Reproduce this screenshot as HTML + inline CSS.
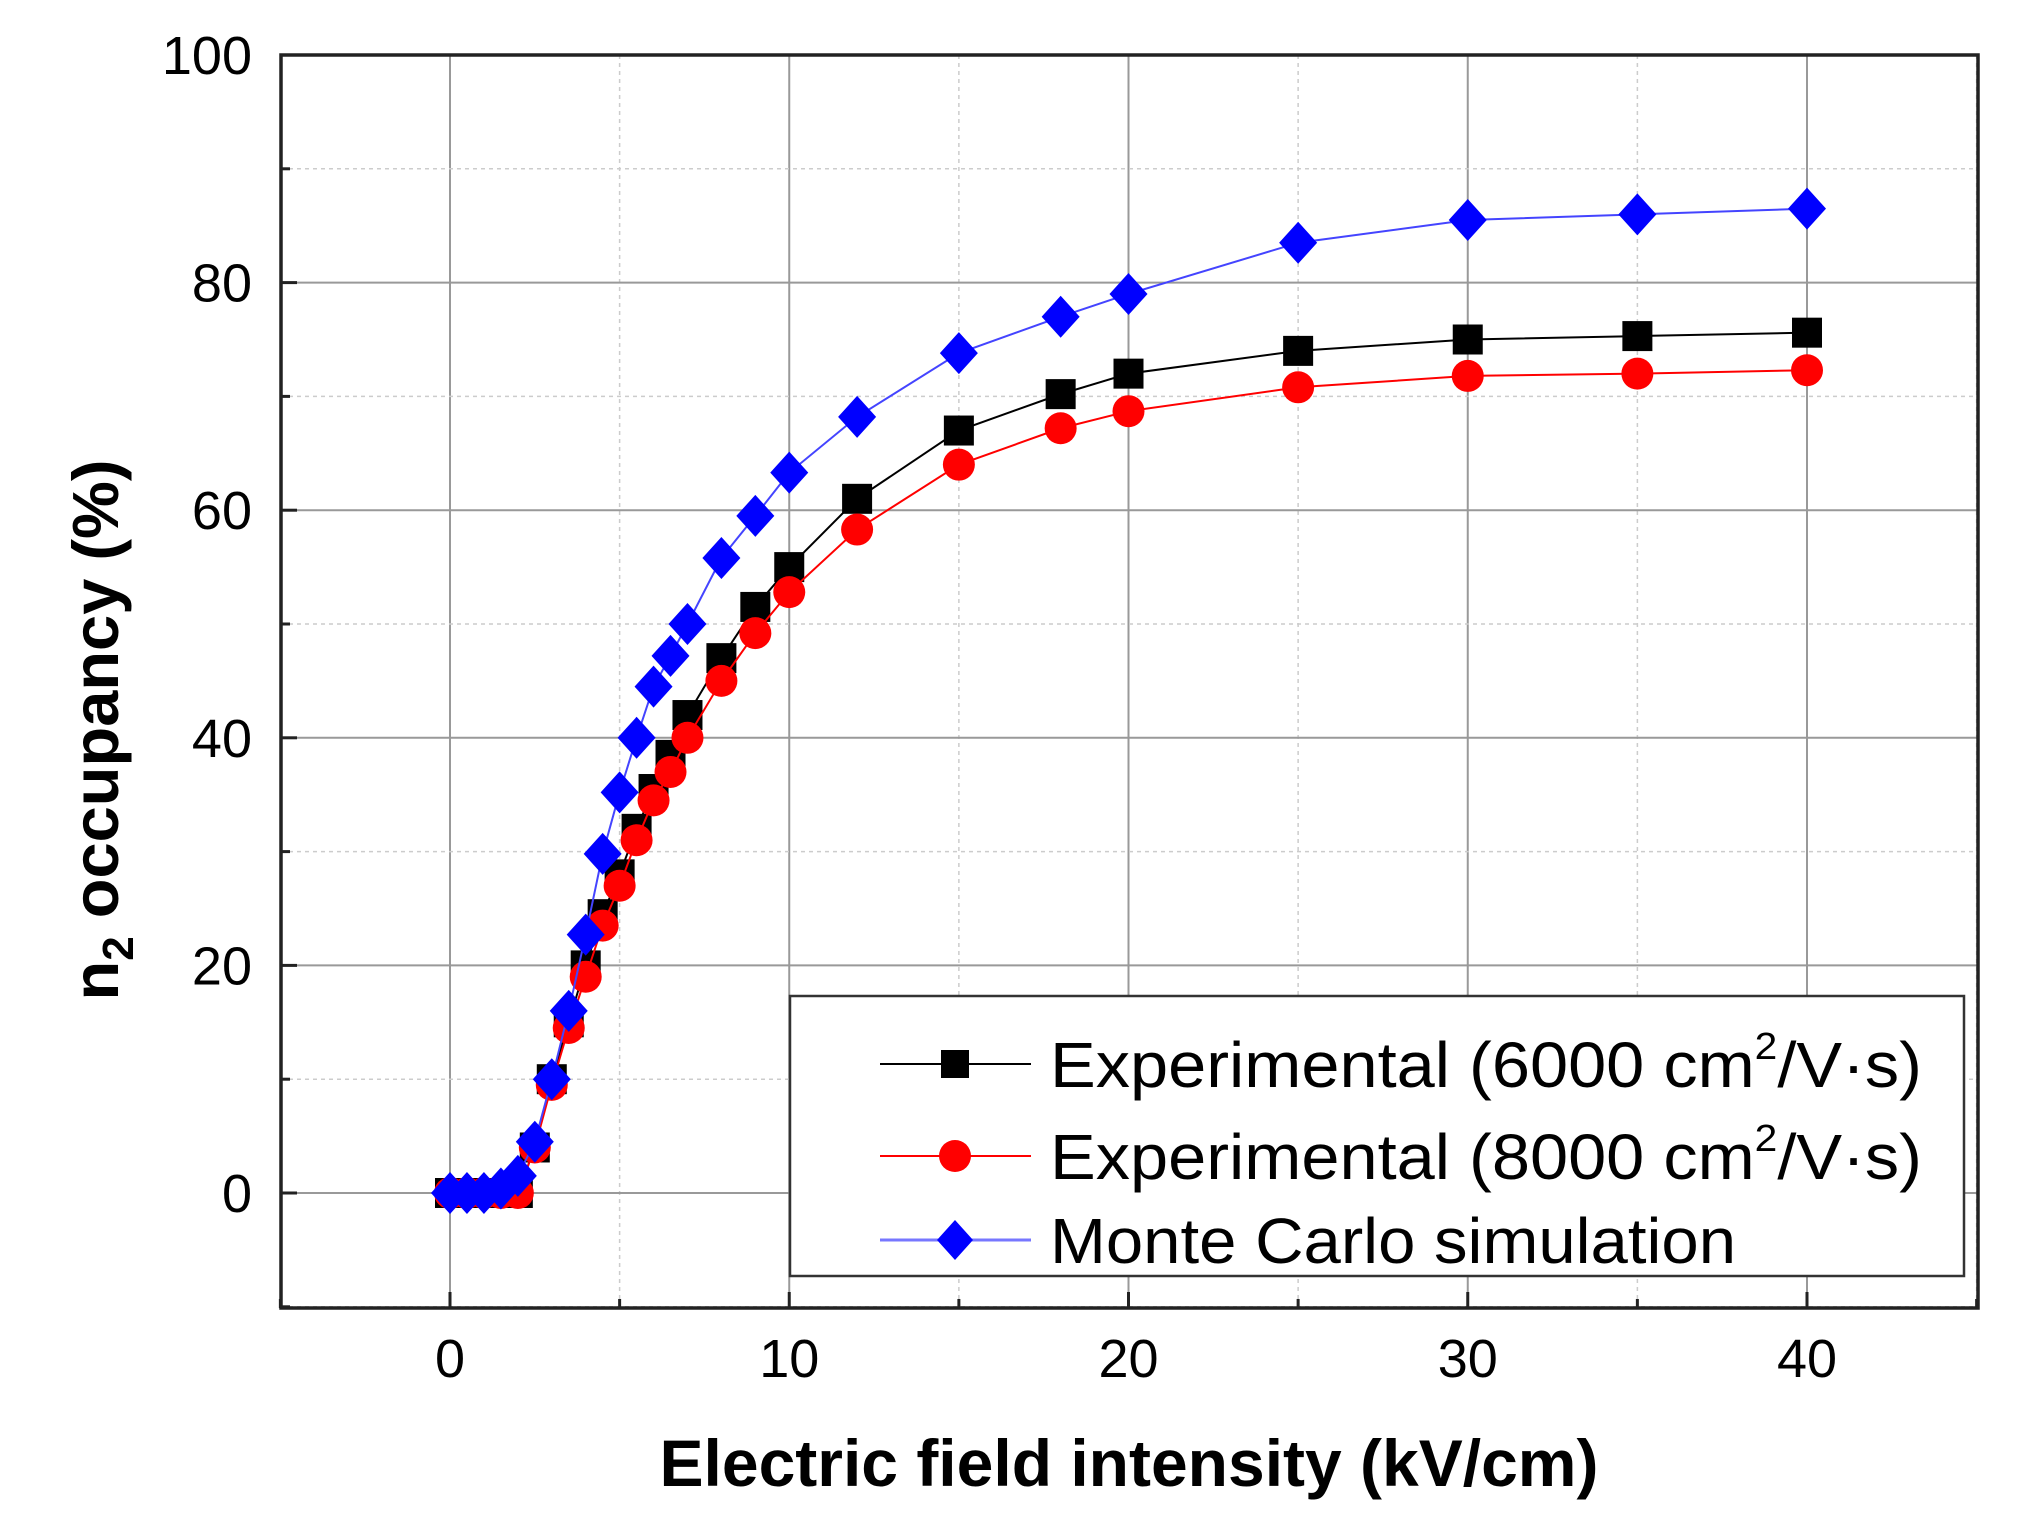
<!DOCTYPE html>
<html><head><meta charset="utf-8"><style>
html,body{margin:0;padding:0;background:#fff;}
svg{display:block;font-family:"Liberation Sans",Arial,sans-serif;}
</style></head><body>
<svg id="chart" width="2019" height="1534" viewBox="0 0 2019 1534" xmlns="http://www.w3.org/2000/svg">
<g id="grid"></g>
<g id="series"></g>
<rect x="281" y="55" width="1697" height="1253" fill="none" stroke="#222" stroke-width="3.5"/>
<g id="ticks"></g>
<text x="1129" y="1486" font-size="66" font-weight="bold" text-anchor="middle">Electric field intensity (kV/cm)</text>
<text transform="translate(118,730) rotate(-90)" font-size="65" font-weight="bold" text-anchor="middle">n<tspan font-size="44" dy="15">2</tspan><tspan dy="-15"> occupancy (%)</tspan></text>
<g>
<rect x="790" y="996" width="1174" height="280" fill="#fff" stroke="#333" stroke-width="2.5"/>
<g>
<line x1="880" y1="1064" x2="1031" y2="1064" stroke="#000" stroke-width="2"/>
<rect x="941" y="1050" width="28" height="28" fill="#000"/>
<text x="1050" y="1087" font-size="64" textLength="872" lengthAdjust="spacingAndGlyphs">Experimental  (6000 cm<tspan font-size="38" dy="-28">2</tspan><tspan dy="28">/V·s)</tspan></text>
</g>
<g>
<line x1="880" y1="1156" x2="1031" y2="1156" stroke="#f00" stroke-width="2"/>
<circle cx="955" cy="1156" r="16" fill="#f00"/>
<text x="1050" y="1179" font-size="64" textLength="872" lengthAdjust="spacingAndGlyphs">Experimental  (8000 cm<tspan font-size="38" dy="-28">2</tspan><tspan dy="28">/V·s)</tspan></text>
</g>
<g>
<line x1="880" y1="1240" x2="1031" y2="1240" stroke="#77f" stroke-width="3"/>
<polygon points="955,1220 973,1240 955,1260 937,1240" fill="#00f"/>
<text x="1050" y="1263" font-size="64" textLength="686" lengthAdjust="spacingAndGlyphs">Monte Carlo simulation</text>
</g>
</g>
</svg>
<script>
const xs = [0,0.5,1,1.5,2,2.5,3,3.5,4,4.5,5,5.5,6,6.5,7,8,9,10,12,15,18,20,25,30,35,40];
const exp6000 = [0,0,0,0,0,4,10,15,20,24.5,28,32,35.5,38.5,42,47,51.5,55,61,67,70.2,72,74,75,75.3,75.6];
const exp8000 = [0,0,0,0,0,4,9.5,14.5,19,23.5,27,31,34.5,37,40,45,49.2,52.8,58.3,64,67.2,68.7,70.8,71.8,72,72.3];
const monteCarlo = [0,0,0,0.4,1.5,4.5,10,16,22.7,29.8,35.2,40,44.5,47.2,50,55.8,59.5,63.3,68.2,73.8,77,79,83.5,85.5,86,86.5];
const xTickLabels = [0,10,20,30,40];
const yTickLabels = [0,20,40,60,80,100];

const NS="http://www.w3.org/2000/svg";
const X0=281,X1=1978,Y0=55,Y1=1308;
function sx(v){return 450+v*(1807-450)/40;}
function sy(v){return 1193-v*(1193-55)/100;}
function mk(tag,attrs,parent){const e=document.createElementNS(NS,tag);for(const k in attrs)e.setAttribute(k,attrs[k]);parent.appendChild(e);return e;}

const grid=document.getElementById('grid');
for(let v=-5;v<=45;v+=5){
  const major=v%10===0;
  const l=mk('line',{x1:sx(v),x2:sx(v),y1:Y0,y2:Y1,stroke:major?'#999':'#ccc','stroke-width':major?2:1.5,'stroke-dasharray':major?'':'4,4'},grid);
  
  
}
for(let v=-10;v<=100;v+=10){
  const major=v%20===0;
  const l=mk('line',{x1:X0,x2:X1,y1:sy(v),y2:sy(v),stroke:major?'#999':'#ccc','stroke-width':major?2:1.5,'stroke-dasharray':major?'':'4,4'},grid);
  
  
}
const ticks=document.getElementById('ticks');
for(let v=-5;v<=45;v+=5){
  const major=v%10===0;
  const t=mk('line',{x1:sx(v),x2:sx(v),y1:Y1,y2:Y1-(major?16:9),stroke:'#222','stroke-width':3},ticks);
  
  
}
for(let v=-10;v<=100;v+=10){
  const major=v%20===0;
  const t=mk('line',{x1:X0,x2:X0+(major?16:9),y1:sy(v),y2:sy(v),stroke:'#222','stroke-width':3},ticks);
  
  
}
xTickLabels.forEach(v=>{
  const t=mk('text',{x:sx(v),y:1377,'font-size':54,'text-anchor':'middle'},ticks);
  t.textContent=v;
  
  
});
yTickLabels.forEach(v=>{
  const t=mk('text',{x:252,y:sy(v)+19,'font-size':54,'text-anchor':'end'},ticks);
  t.textContent=v;
  
  
});

const series=document.getElementById('series');
function drawSeries(vals,color,lineColor,shape,name){
  const g=mk('g',{},series);
  
  
  const pts=xs.map((x,i)=>sx(x)+','+sy(vals[i])).join(' ');
  const pl=mk('polyline',{points:pts,fill:'none',stroke:lineColor,'stroke-width':2},g);
  
  
  xs.forEach((x,i)=>{
    const cx=sx(x),cy=sy(vals[i]);let m;
    if(shape==='square')m=mk('rect',{x:cx-15,y:cy-15,width:30,height:30,fill:color},g);
    else if(shape==='circle')m=mk('circle',{cx:cx,cy:cy,r:16,fill:color},g);
    else m=mk('polygon',{points:`${cx},${cy-21} ${cx+19},${cy} ${cx},${cy+21} ${cx-19},${cy}`,fill:color},g);
    
    
  });
}
drawSeries(exp6000,'#000','#000','square','series-exp-6000');
drawSeries(exp8000,'#f00','#f00','circle','series-exp-8000');
drawSeries(monteCarlo,'#00f','#44f','diamond','series-monte-carlo');
</script>
</body></html>
